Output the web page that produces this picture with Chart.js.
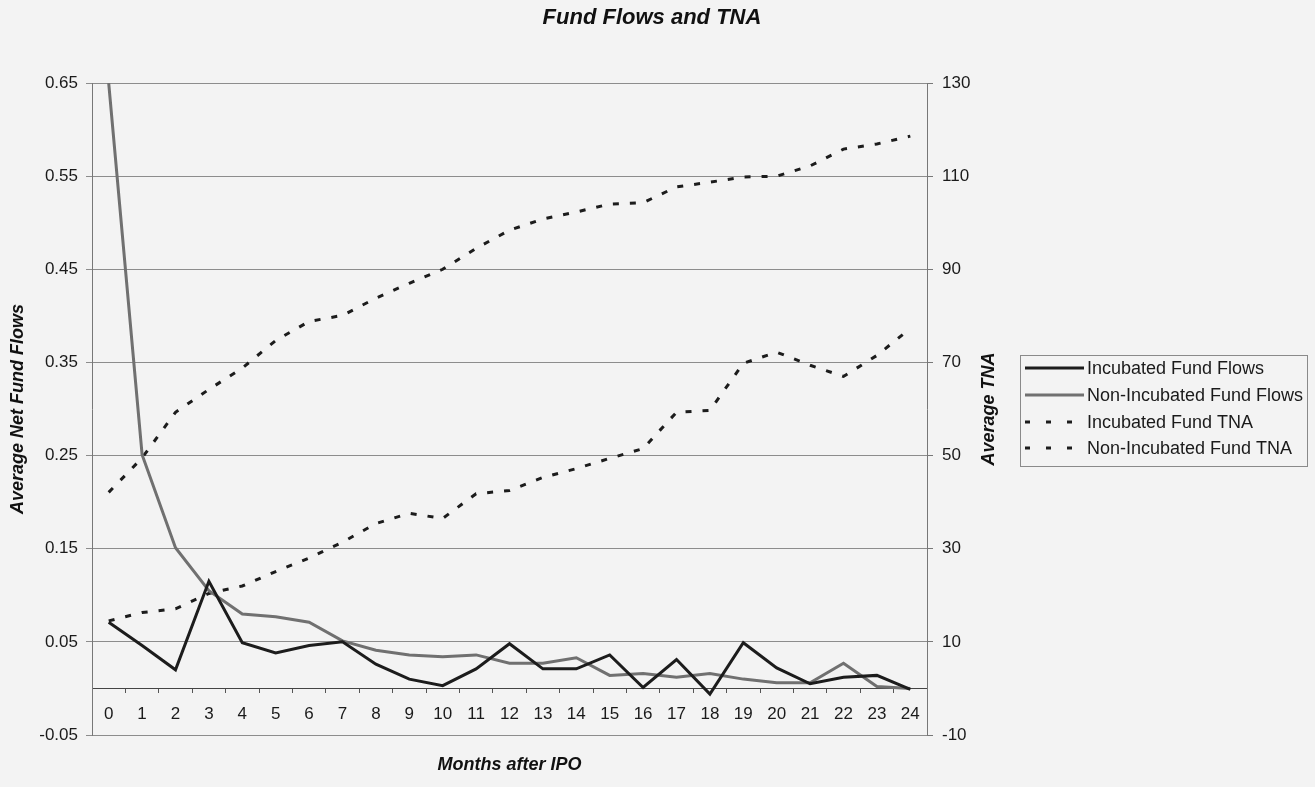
<!DOCTYPE html>
<html>
<head>
<meta charset="utf-8">
<script src="https://cdn.jsdelivr.net/npm/chart.js@4.4.0/dist/chart.umd.min.js"></script>
<style>
  html, body { margin: 0; padding: 0; background: #f3f3f3; }
  #wrap { width: 1315px; height: 787px; position: relative; }
</style>
</head>
<body>
<div id="wrap"><canvas id="c"></canvas></div>
<script>
// ---- data ----
const months = ['0','1','2','3','4','5','6','7','8','9','10','11','12','13','14','15','16','17','18','19','20','21','22','23','24'];
const incubatedFlows = [0.071, 0.046, 0.020, 0.115, 0.049, 0.038, 0.046, 0.050, 0.026, 0.010, 0.003, 0.021, 0.048, 0.021, 0.021, 0.036, 0.001, 0.031, -0.006, 0.049, 0.022, 0.005, 0.012, 0.014, -0.001];
const nonIncubatedFlows = [0.65, 0.251, 0.151, 0.105, 0.080, 0.077, 0.071, 0.051, 0.041, 0.036, 0.034, 0.036, 0.027, 0.027, 0.033, 0.014, 0.016, 0.012, 0.016, 0.010, 0.006, 0.006, 0.027, 0.002, 0.000];
const incubatedTNA = [14.5, 16.3, 17.1, 20.4, 22.0, 25.1, 28.0, 31.4, 35.4, 37.6, 36.5, 41.8, 42.5, 45.3, 47.2, 49.4, 51.5, 59.3, 59.7, 69.8, 72.2, 69.4, 67.0, 71.5, 77.3];
const nonIncubatedTNA = [42.1, 49.5, 59.3, 64.2, 68.8, 74.7, 78.8, 80.1, 83.8, 87.0, 90.0, 94.5, 98.4, 100.8, 102.3, 104.0, 104.3, 107.7, 108.7, 109.8, 110.0, 112.2, 115.8, 116.9, 118.6];
const seriesNames = ['Incubated Fund Flows', 'Non-Incubated Fund Flows', 'Incubated Fund TNA', 'Non-Incubated Fund TNA'];
const titleText = 'Fund Flows and TNA';
const xTitle = 'Months after IPO';
const yTitle = 'Average Net Fund Flows';
const y2Title = 'Average TNA';

const FONT = '"Liberation Sans", Arial, sans-serif';
const BLACK = '#1c1c1c';
const GRAY = '#707070';
const DASH = [6, 11];

const textPlugin = {
  id: 'texts',
  beforeDraw(chart) {
    const ctx = chart.ctx;
    ctx.save();
    ctx.fillStyle = '#f3f3f3';
    ctx.fillRect(0, 0, chart.width, chart.height);
    ctx.restore();
  },
  afterDraw(chart) {
    const ctx = chart.ctx;
    const a = chart.chartArea;
    ctx.save();
    ctx.fillStyle = '#111';
    ctx.textAlign = 'center';
    ctx.textBaseline = 'middle';
    ctx.font = 'italic bold 22px ' + FONT;
    ctx.fillText(titleText, 652, 18);
    ctx.font = 'italic bold 18px ' + FONT;
    ctx.fillText(xTitle, (a.left + a.right) / 2, 765);
    const cy = (a.top + a.bottom) / 2;
    ctx.save();
    ctx.translate(18, cy);
    ctx.rotate(-Math.PI / 2);
    ctx.fillText(yTitle, 0, 0);
    ctx.restore();
    ctx.save();
    ctx.translate(989, cy);
    ctx.rotate(-Math.PI / 2);
    ctx.fillText(y2Title, 0, 0);
    ctx.restore();
    const lx = 1020, ly = 355, lw = 287, lh = 111;
    ctx.strokeStyle = '#8a8a8a';
    ctx.lineWidth = 1;
    ctx.strokeRect(lx + 0.5, ly + 0.5, lw, lh);
    const rows = [368, 395, 422, 448];
    const styles = [
      {c: BLACK, w: 3, d: []},
      {c: GRAY, w: 3, d: []},
      {c: BLACK, w: 3, d: [5, 16]},
      {c: BLACK, w: 3, d: [5, 16]}
    ];
    ctx.font = '18px ' + FONT;
    ctx.textAlign = 'left';
    for (let i = 0; i < 4; i++) {
      const s = styles[i];
      ctx.beginPath();
      ctx.setLineDash(s.d);
      ctx.strokeStyle = s.c;
      ctx.lineWidth = s.w;
      ctx.moveTo(1025, rows[i]);
      ctx.lineTo(1084, rows[i]);
      ctx.stroke();
      ctx.setLineDash([]);
      ctx.fillStyle = '#1a1a1a';
      ctx.fillText(seriesNames[i], 1087, rows[i] + 1);
    }
    ctx.restore();
  }
};

new Chart(document.getElementById('c'), {
  type: 'line',
  data: {
    labels: months,
    datasets: [
      { label: seriesNames[0], data: incubatedFlows, yAxisID: 'y', borderColor: BLACK, borderWidth: 3, pointRadius: 0, tension: 0, fill: false },
      { label: seriesNames[1], data: nonIncubatedFlows, yAxisID: 'y', borderColor: GRAY, borderWidth: 3, pointRadius: 0, tension: 0, fill: false },
      { label: seriesNames[2], data: incubatedTNA, yAxisID: 'y2', borderColor: BLACK, borderWidth: 3, borderDash: DASH, pointRadius: 0, tension: 0, fill: false },
      { label: seriesNames[3], data: nonIncubatedTNA, yAxisID: 'y2', borderColor: BLACK, borderWidth: 3, borderDash: DASH, pointRadius: 0, tension: 0, fill: false }
    ]
  },
  options: {
    responsive: true,
    maintainAspectRatio: false,
    animation: false,
    layout: { padding: { top: 83, bottom: 52, left: 0, right: 308 } },
    plugins: { legend: { display: false }, title: { display: false }, tooltip: { enabled: false } },
    scales: {
      x: {
        type: 'category',
        position: { y: 0 },
        offset: true,
        grid: { display: true, drawOnChartArea: false, drawTicks: true, tickLength: 4, offset: true, color: '#555', lineWidth: 1 },
        border: { display: true, color: '#444', width: 1 },
        ticks: { color: '#1a1a1a', font: { family: FONT, size: 17 }, padding: 12, maxRotation: 0, autoSkip: false }
      },
      y: {
        position: 'left',
        min: -0.05, max: 0.65,
        afterFit(s) { s.width = 92; },
        ticks: { stepSize: 0.1, color: '#1a1a1a', font: { family: FONT, size: 17 }, padding: 8, callback: v => Number(v).toFixed(2) },
        grid: { color: '#8c8c8c', lineWidth: 1, tickLength: 6 },
        border: { display: true, color: '#777', width: 1 }
      },
      y2: {
        position: 'right',
        min: -10, max: 130,
        afterFit(s) { s.width = 80; },
        ticks: { stepSize: 20, color: '#1a1a1a', font: { family: FONT, size: 17 }, padding: 9 },
        grid: { drawOnChartArea: false, color: '#777', tickLength: 6 },
        border: { display: true, color: '#777', width: 1 }
      }
    }
  },
  plugins: [textPlugin]
});
</script>
</body>
</html>
